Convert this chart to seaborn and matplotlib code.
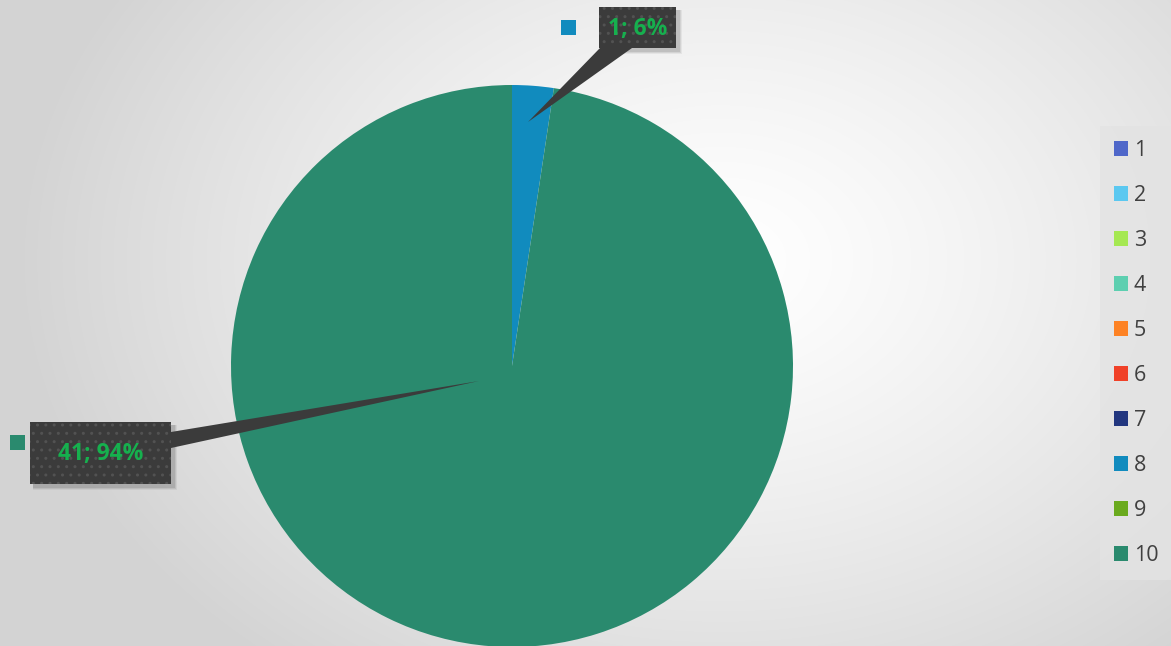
import numpy as np
import matplotlib
matplotlib.use("Agg")
import matplotlib.pyplot as plt
from matplotlib.patches import Polygon, Rectangle
import seaborn as sns

# ---- data ----
categories = ["1", "2", "3", "4", "5", "6", "7", "8", "9", "10"]
values = [0, 0, 0, 0, 0, 0, 0, 1, 0, 41]
slice_colors = ["#4F67C9", "#5BC8F0", "#A5E852", "#5DCFB0", "#FD8224",
                "#F04128", "#22367F", "#118BBE", "#6AAA1E", "#2A8A6E"]
label_texts = {"8": "1; 6%", "10": "41; 94%"}

sns.set_theme(style="white")
plt.rcParams['font.family'] = ['Open Sans', 'DejaVu Sans']
palette = sns.color_palette(slice_colors)

W, H = 1171, 646
fig = plt.figure(figsize=(W / 100, H / 100), dpi=100)

# background radial gradient
bg = fig.add_axes([0, 0, 1, 1])
yy, xx = np.mgrid[0:H, 0:W]
d = np.sqrt(((xx - 720) / 700.0) ** 2 + ((yy - 260) / 520.0) ** 2)
g = 1.0 - 0.17 * np.clip(d, 0, 1) ** 1.3
bg.imshow(np.dstack([g, g, g]), extent=[0, W, H, 0], aspect='auto')
bg.set_xlim(0, W)
bg.set_ylim(H, 0)
bg.axis('off')

# pie
cx, cy, R = 512, 366, 281
ax = fig.add_axes([(cx - R) / W, (H - cy - R) / H, 2 * R / W, 2 * R / H])
wedges, _ = ax.pie(values, colors=palette, startangle=90, counterclock=False,
                   radius=1, wedgeprops=dict(linewidth=0))
ax.set_xlim(-1, 1)
ax.set_ylim(-1, 1)
ax.set_aspect('equal')
ax.axis('off')

# overlay for callouts (pixel coordinates)
ov = fig.add_axes([0, 0, 1, 1], zorder=5)
ov.set_xlim(0, W)
ov.set_ylim(H, 0)
ov.axis('off')
ov.patch.set_alpha(0)

box_col = "#3B3B3B"
callouts = [
    ("8", 599, 7, 676, 48, [(600, 48), (632, 48)], (528, 122), (561, 20)),
    ("10", 30, 422, 171, 484, [(171, 432), (171, 448)], (479, 381), (10, 435)),
]
for cat, x0, y0, x1, y1, base, tip, key in callouts:
    idx = categories.index(cat)
    for k, a in [(6, 0.05), (4, 0.07), (2, 0.09)]:
        ov.add_patch(Rectangle((x0 + 3, y0 + 3), x1 - x0 + k / 2, y1 - y0 + k / 2,
                               facecolor='black', alpha=a, lw=0, zorder=1))
    ov.add_patch(Polygon([base[0], base[1], tip], closed=True,
                         facecolor=box_col, edgecolor='none', zorder=2))
    ov.add_patch(Rectangle((x0, y0), x1 - x0, y1 - y0, facecolor=box_col,
                           edgecolor='#525252', hatch='..', lw=0, zorder=3))
    ov.text((x0 + x1) / 2, (y0 + y1) / 2 + 1, label_texts[cat], color="#16B04E",
            fontsize=16.5, fontweight='bold', ha='center', va='center', zorder=4)
    ov.add_patch(Rectangle(key, 15, 15, facecolor=palette[idx], lw=0, zorder=4))

# legend
leg = fig.legend(wedges, categories, loc='upper left',
                 bbox_to_anchor=(1100 / W, 1 - 126 / H),
                 frameon=True, fancybox=False, fontsize=15.5,
                 handlelength=0.65, handleheight=0.65, handletextpad=0.25,
                 labelspacing=1.114, borderpad=0.66, borderaxespad=0)
leg.get_frame().set_facecolor('#E3E3E3')
leg.get_frame().set_edgecolor('none')
for t in leg.get_texts():
    t.set_color('#404040')

fig.savefig("out.png", dpi=100)
